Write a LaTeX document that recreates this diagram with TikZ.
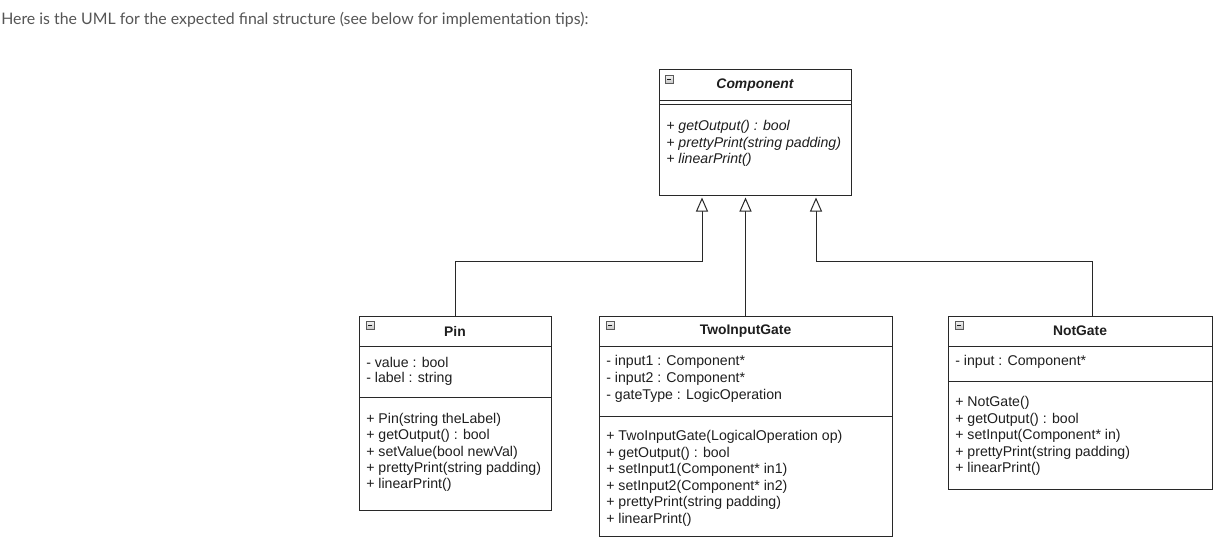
\documentclass[tikz,border=0pt]{standalone}
\usepackage{fontspec}
\setmainfont{Liberation Sans}
\newfontfamily\lato{Lato}
\usetikzlibrary{arrows.meta,fit}
\definecolor{linec}{RGB}{40,40,40}
\definecolor{introc}{RGB}{85,85,85}
\definecolor{txtc}{RGB}{30,30,30}
\tikzset{
  classbox/.style={draw=linec, line width=0.75pt, fill=white, inner sep=0pt},
  sepline/.style={draw=linec, line width=0.75pt},
  ttl/.style={font=\fontsize{10.4}{11}\selectfont\bfseries, text=txtc, inner sep=0pt},
  mem/.style={font=\fontsize{10.6}{11}\selectfont, text=txtc, anchor=west, inner sep=0pt},
  imem/.style={mem, font=\fontsize{10.6}{11}\selectfont\itshape},
  icon/.style={draw=gray!70!black, top color=gray!10, bottom color=gray!45, line width=0.5pt, minimum width=6pt, minimum height=6pt, inner sep=0pt, anchor=north west},
  inh/.style={draw=linec, line width=0.75pt, -{Triangle[open, width=9pt, length=10.5pt, fill=white]}},
}
\newcommand{\mkicon}[2]{%
  \node[icon] (#2) at #1 {};
  \draw[line width=1pt, gray!20!black] ([xshift=1.5pt]#2.center) -- ([xshift=-1.5pt]#2.center);
}
\begin{document}
\begin{tikzpicture}[x=0.75pt,y=-0.75pt]
\useasboundingbox (0,0) rectangle (1223,550);
\node[anchor=west, inner sep=0pt, text=introc, font=\lato\fontsize{11.9}{13}\selectfont] (intro) at (1,20) {Here is the UML for the expected final structure (see below for implementation tips):};

% Component
\coordinate (c1) at (659,69); \coordinate (c2) at (851,195);
\node[classbox, fit=(c1)(c2)] (comp) {};
\mkicon{(665,75)}{icC}
\node[ttl, font=\fontsize{10.4}{11}\selectfont\bfseries\itshape] (compT) at (755,85) {Component};
\draw[sepline] (659,100) -- (851,100);
\draw[sepline] (659,104) -- (851,104);
\node[imem] (cm1) at (666,127) {+ getOutput() : bool};
\node[imem] (cm2) at (666,143.5) {+ prettyPrint(string padding)};
\node[imem] (cm3) at (666,160) {+ linearPrint()};

% Pin
\coordinate (p1) at (359,316); \coordinate (p2) at (551,510);
\node[classbox, fit=(p1)(p2)] (pin) {};
\mkicon{(366,321)}{icP}
\node[ttl] (pinT) at (455,331) {Pin};
\draw[sepline] (359,346) -- (551,346);
\draw[sepline] (359,397) -- (551,397);
\node[mem] (pa1) at (366,362) {- value : bool};
\node[mem] (pa2) at (366,379) {- label : string};
\node[mem] (pm1) at (366,420) {+ Pin(string theLabel)};
\node[mem] (pm2) at (366,436.3) {+ getOutput() : bool};
\node[mem] (pm3) at (366,452.6) {+ setValue(bool newVal)};
\node[mem] (pm4) at (366,469) {+ prettyPrint(string padding)};
\node[mem] (pm5) at (366,485.3) {+ linearPrint()};

% TwoInputGate
\coordinate (g1) at (599,316); \coordinate (g2) at (892,536);
\node[classbox, fit=(g1)(g2)] (tig) {};
\mkicon{(606,321)}{icG}
\node[ttl] (tigT) at (745.5,331) {TwoInputGate};
\draw[sepline] (599,346) -- (892,346);
\draw[sepline] (599,416) -- (892,416);
\node[mem] (ga1) at (606,362) {- input1 : Component*};
\node[mem] (ga2) at (606,379) {- input2 : Component*};
\node[mem] (ga3) at (606,396) {- gateType : LogicOperation};
\node[mem] (gm1) at (606,437) {+ TwoInputGate(LogicalOperation op)};
\node[mem] (gm2) at (606,453.5) {+ getOutput() : bool};
\node[mem] (gm3) at (606,470) {+ setInput1(Component* in1)};
\node[mem] (gm4) at (606,486.5) {+ setInput2(Component* in2)};
\node[mem] (gm5) at (606,503) {+ prettyPrint(string padding)};
\node[mem] (gm6) at (606,519.5) {+ linearPrint()};

% NotGate
\coordinate (n1) at (948,316); \coordinate (n2) at (1212,489);
\node[classbox, fit=(n1)(n2)] (ng) {};
\mkicon{(955,321)}{icN}
\node[ttl] (ngT) at (1080,331) {NotGate};
\draw[sepline] (948,346) -- (1212,346);
\draw[sepline] (948,381) -- (1212,381);
\node[mem] (na1) at (955,362) {- input : Component*};
\node[mem] (nm1) at (955,403) {+ NotGate()};
\node[mem] (nm2) at (955,419.5) {+ getOutput() : bool};
\node[mem] (nm3) at (955,436) {+ setInput(Component* in)};
\node[mem] (nm4) at (955,452.5) {+ prettyPrint(string padding)};
\node[mem] (nm5) at (955,469) {+ linearPrint()};

% Inheritance connectors
\coordinate (t1) at (702,197.5);
\coordinate (t2) at (745.5,197.5);
\coordinate (t3) at (816,197.5);
\coordinate (h1) at (702,261);
\coordinate (h3) at (816,261);
\coordinate (nt) at (1092,316);
\draw[inh] (pin.north) |- (h1) -- (t1);
\draw[inh] (tig.north) -- (t2);
\draw[inh] (nt) |- (h3) -- (t3);
\end{tikzpicture}
\end{document}
